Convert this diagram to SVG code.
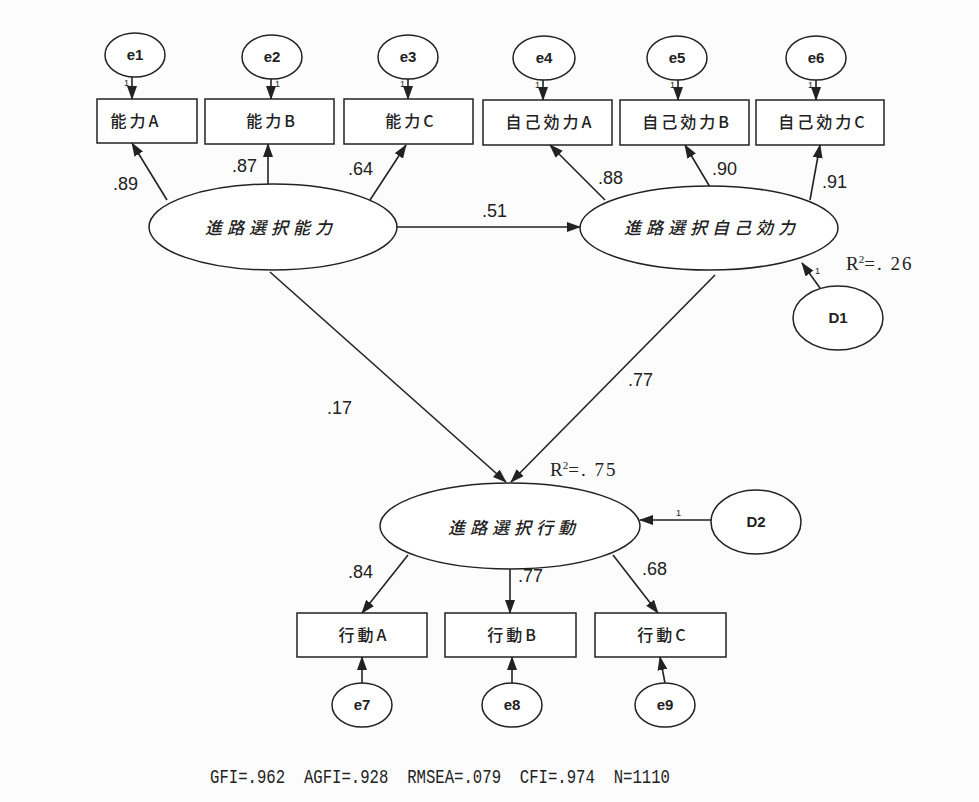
<svg xmlns="http://www.w3.org/2000/svg" width="979" height="802" viewBox="0 0 979 802">
<style>
.bg{fill:#fcfcfc}
.sh{fill:#fff;stroke:#222;stroke-width:1.5}
.ln{stroke:#222;stroke-width:1.6;fill:none;marker-end:url(#ah)}
.jp{font-family:"Noto Sans CJK JP","Noto Sans",sans-serif;font-size:16px;font-weight:500;fill:#222;text-anchor:middle;letter-spacing:3px}
.lat{font-family:"Noto Sans CJK JP",sans-serif;font-size:17px;font-weight:500;font-style:italic;fill:#222;text-anchor:middle;letter-spacing:5px}
.e{font-family:"Liberation Sans",Arial,sans-serif;font-size:15px;font-weight:bold;fill:#222;text-anchor:middle}
.num{font-family:"Liberation Sans",Arial,sans-serif;font-size:18px;fill:#222}
.one{font-family:"Liberation Sans",Arial,sans-serif;font-size:9px;fill:#222}
.r2{font-family:"Liberation Serif","Times New Roman",serif;font-size:19px;fill:#222}
.fit{font-family:"Liberation Mono","DejaVu Sans Mono",monospace;font-size:20px;fill:#222}
</style>
<defs>
<marker id="ah" markerWidth="14" markerHeight="10" refX="13" refY="5" orient="auto" markerUnits="userSpaceOnUse">
<path d="M0,0 L14,5 L0,10 Z" fill="#222"/>
</marker>
</defs>
<rect class="bg" x="0" y="0" width="979" height="802"/>

<g id="connectors">
<line class="ln" x1="132" y1="77" x2="132" y2="99"/>
<line class="ln" x1="271" y1="79" x2="271" y2="99"/>
<line class="ln" x1="408" y1="79" x2="408" y2="99"/>
<line class="ln" x1="543" y1="80" x2="543" y2="100"/>
<line class="ln" x1="678" y1="80" x2="678" y2="100"/>
<line class="ln" x1="816" y1="80" x2="816" y2="100"/>
<line class="ln" x1="167" y1="200" x2="132" y2="143"/>
<line class="ln" x1="268" y1="184" x2="268" y2="144"/>
<line class="ln" x1="370" y1="200" x2="406" y2="145"/>
<line class="ln" x1="605" y1="200" x2="550" y2="145"/>
<line class="ln" x1="710" y1="187" x2="685" y2="145"/>
<line class="ln" x1="810" y1="200" x2="820" y2="145"/>
<line class="ln" x1="397" y1="227" x2="580" y2="227"/>
<line class="ln" x1="820" y1="288" x2="802" y2="263"/>
<line class="ln" x1="270" y1="272" x2="506" y2="482"/>
<line class="ln" x1="715" y1="275" x2="511" y2="482"/>
<line class="ln" x1="711" y1="520" x2="640" y2="520"/>
<line class="ln" x1="408" y1="555" x2="362" y2="613"/>
<line class="ln" x1="510" y1="569" x2="510" y2="613"/>
<line class="ln" x1="613" y1="555" x2="658" y2="613"/>
<line class="ln" x1="362" y1="683" x2="362" y2="657"/>
<line class="ln" x1="512" y1="683" x2="512" y2="657"/>
<line class="ln" x1="665" y1="683" x2="660" y2="657"/>
<text class="one" x="124" y="86">1</text>
<text class="one" x="275" y="87">1</text>
<text class="one" x="400" y="87">1</text>
<text class="one" x="535" y="88">1</text>
<text class="one" x="670" y="88">1</text>
<text class="one" x="808" y="88">1</text>
<text class="one" x="815" y="274">1</text>
<text class="one" x="676" y="516">1</text>
<text class="num" x="113" y="190">.89</text>
<text class="num" x="232" y="172">.87</text>
<text class="num" x="348" y="175">.64</text>
<text class="num" x="598" y="184">.88</text>
<text class="num" x="712" y="175">.90</text>
<text class="num" x="822" y="188">.91</text>
<text class="num" x="482" y="217">.51</text>
<text class="num" x="327" y="414">.17</text>
<text class="num" x="628" y="386">.77</text>
<text class="num" x="348" y="578">.84</text>
<text class="num" x="518" y="582">.77</text>
<text class="num" x="642" y="575">.68</text>
</g>

<g id="e1"><ellipse class="sh" cx="135" cy="55" rx="30" ry="22"/><text class="e" x="135" y="60">e1</text></g>
<g id="e2"><ellipse class="sh" cx="272" cy="57" rx="30" ry="22"/><text class="e" x="272" y="62">e2</text></g>
<g id="e3"><ellipse class="sh" cx="408" cy="57" rx="30" ry="22"/><text class="e" x="408" y="62">e3</text></g>
<g id="e4"><ellipse class="sh" cx="544" cy="58" rx="31" ry="22"/><text class="e" x="544" y="63">e4</text></g>
<g id="e5"><ellipse class="sh" cx="677" cy="58" rx="30" ry="22"/><text class="e" x="677" y="63">e5</text></g>
<g id="e6"><ellipse class="sh" cx="816" cy="58" rx="30" ry="22"/><text class="e" x="816" y="63">e6</text></g>

<g id="nouryokuA"><rect class="sh" x="97" y="99" width="100" height="44"/><text class="jp" x="136" y="127">能力A</text></g>
<g id="nouryokuB"><rect class="sh" x="205" y="99" width="129" height="45"/><text class="jp" x="272" y="127">能力B</text></g>
<g id="nouryokuC"><rect class="sh" x="344" y="99" width="129" height="45"/><text class="jp" x="411" y="127">能力C</text></g>
<g id="jikoA"><rect class="sh" x="483" y="100" width="129" height="45"/><text class="jp" x="550" y="128">自己効力A</text></g>
<g id="jikoB"><rect class="sh" x="620" y="100" width="129" height="45"/><text class="jp" x="687" y="128">自己効力B</text></g>
<g id="jikoC"><rect class="sh" x="756" y="100" width="128" height="45"/><text class="jp" x="823" y="128">自己効力C</text></g>

<g id="nouryoku"><ellipse class="sh" cx="273" cy="227" rx="124" ry="43"/><text class="lat" x="271" y="234">進路選択能力</text></g>
<g id="jikokouryoku"><ellipse class="sh" cx="709" cy="228" rx="129" ry="42"/><text class="lat" x="712" y="234">進路選択自己効力</text></g>
<g id="D1"><ellipse class="sh" cx="838" cy="318" rx="45" ry="32"/><text class="e" x="838" y="323">D1</text></g>
<text class="r2" x="846" y="270">R<tspan font-size="11" dy="-7">2</tspan><tspan dy="7" letter-spacing="2">=. 26</tspan></text>

<g id="koudou"><ellipse class="sh" cx="510" cy="526" rx="130" ry="43"/><text class="lat" x="514" y="534">進路選択行動</text></g>
<text class="r2" x="550" y="476">R<tspan font-size="11" dy="-7">2</tspan><tspan dy="7" letter-spacing="2">=. 75</tspan></text>
<g id="D2"><ellipse class="sh" cx="756" cy="522" rx="45" ry="32"/><text class="e" x="756" y="527">D2</text></g>

<g id="koudouA"><rect class="sh" x="297" y="613" width="130" height="44"/><text class="jp" x="364" y="641">行動A</text></g>
<g id="koudouB"><rect class="sh" x="445" y="613" width="131" height="44"/><text class="jp" x="513" y="641">行動B</text></g>
<g id="koudouC"><rect class="sh" x="595" y="613" width="131" height="44"/><text class="jp" x="663" y="641">行動C</text></g>

<g id="e7"><ellipse class="sh" cx="362" cy="705" rx="30" ry="22"/><text class="e" x="362" y="710">e7</text></g>
<g id="e8"><ellipse class="sh" cx="512" cy="705" rx="30" ry="22"/><text class="e" x="512" y="710">e8</text></g>
<g id="e9"><ellipse class="sh" cx="665" cy="705" rx="30" ry="22"/><text class="e" x="665" y="710">e9</text></g>

<text class="fit" x="210" y="783" textLength="460" lengthAdjust="spacingAndGlyphs" xml:space="preserve">GFI=.962  AGFI=.928  RMSEA=.079  CFI=.974  N=1110</text>
</svg>
